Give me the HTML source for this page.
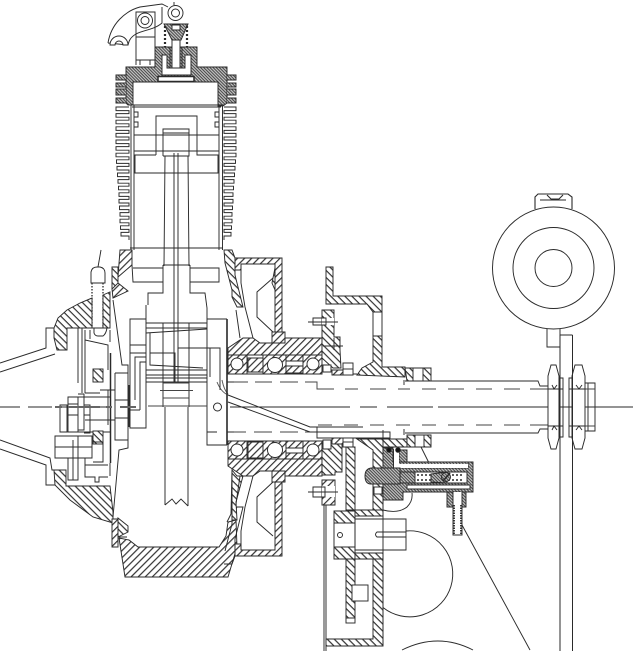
<!DOCTYPE html>
<html><head><meta charset="utf-8"><style>html,body{margin:0;padding:0;background:#fff}svg{display:block}</style></head>
<body>
<svg width="633" height="651" viewBox="0 0 633 651" xmlns="http://www.w3.org/2000/svg">
<defs>
<pattern id="s" width="5" height="5" patternUnits="userSpaceOnUse" patternTransform="rotate(-45)"><rect width="5" height="5" fill="#fff"/><rect width="5" height="1.2" fill="#333"/></pattern>
<pattern id="b" width="5" height="5" patternUnits="userSpaceOnUse" patternTransform="rotate(45)"><rect width="5" height="5" fill="#fff"/><rect width="5" height="1.2" fill="#333"/></pattern>
<pattern id="f" width="2.2" height="2.2" patternUnits="userSpaceOnUse" patternTransform="rotate(45)"><rect width="2.2" height="2.2" fill="#c4c4c4"/><rect width="2.2" height="1" fill="#444"/></pattern>
</defs>
<g fill="none" stroke="#2a2a2a" stroke-width="0.95">

<!-- right circle and plate -->
<circle cx="553.5" cy="268" r="61"/><circle cx="553.5" cy="268" r="40.5"/><circle cx="553.5" cy="268" r="18.5"/>
<path d="M535 209V197L538 194H568L572 197V209M540 200H566M547 195L551 199H559L563 195" stroke-width="1.1"/>
<path d="M547 329V347H560M560 329V651M572.5 335V651M560 335H572.5"/>

<!-- shaft -->
<path d="M228 374H320M333 374H357M405 381H538L540 386H548M320 441H228M405 433H538L540 429H548M572 383H595V431H572M588 383V431"/>
<path d="M228 382H248M255 382H272M280 382H298M305 382H317V389H334M345 389H358M370 389H386M398 389H410M422 389H436M448 389H464M476 389H492M504 389H520M530 389H548M572 389H595" stroke="#444"/>
<path d="M228 432H246M254 432H272M280 432H298M305 432H312M318 425H332M344 425H358M370 425H384M396 425H410M422 425H436M448 425H464M476 425H492M504 425H520M530 425H548M572 426H595" stroke="#444"/>
<path d="M0 407H20M28 407H52M60 407H110"/>
<path d="M230 407H350M360 407H377M387 407H433M438 407H633"/>
<path d="M228 395L310 427H363M228 402L310 432H390V438H317V427"/>
<path d="M217 382Q221 392 228 395M222 380Q224 390 228 394" stroke="#555"/>
<path d="M227 319V445" stroke-width="1.6"/>
<!-- nuts -->
<path d="M551 365H556L559 376V438L556 449H551L548 438V376ZM575 365H582L585 376V438L582 449H575L572 438V376Z" fill="#fff"/>
<path d="M559 378H563V437H559ZM569 378H572.5V437H569ZM548 389H563M569 389H585M548 426H563M569 426H585"/>
<path d="M552 385L554 389L557 385M552 430L554 426L557 430M576 385L579 389L582 385M576 430L579 426L582 430"/>
<path d="M560 335V651M572.5 335V651"/>

<!-- cylinder fins -->
<path d="M129 107H116V110.600H129V113.600H116V117.200H129V120.200H116V123.800H129V126.800H116V130.400H129V133.400H116V137H129V140H116V143.600H129V146.600H116V150.200H129V153.200H116V156.800H129V159.800H116.500V163.400H129V166.400H117V170H129V173H117.500V176.600H129V179.600H118V183.200H129V186.200H118.500V189.800H129V192.800H119V196.400H129V199.400H119V203H129V206H119.500V209.600H129V212.600H120V216.200H129V219.200H120V222.800H129V225.800H120.500V229.400H129V232.400H121V236H129V240"/>
<path d="M224 107H236V110.600H224V113.600H236V117.200H224V120.200H236V123.800H224V126.800H236V130.400H224V133.400H236V137H224V140H236V143.600H224V146.600H236V150.200H224V153.200H236V156.800H224V159.800H235.500V163.400H224V166.400H235V170H224V173H234.500V176.600H224V179.600H234V183.200H224V186.200H233.500V189.800H224V192.800H233V196.400H224V199.400H233V203H224V206H232.500V209.600H224V212.600H232V216.200H224V219.200H232V222.800H224V225.800H231.500V229.400H224V232.400H231V236H224V240"/>

<!-- cylinder head -->
<path d="M126 67H155V47H197V67H227V103L223 106H218V82H133V105H128L126 103Z" fill="url(#f)"/>
<path d="M126 75H116V80H126V83H116V87H126V89H116V95H126V98H116V103H126M227 75H236V80H227V83H236V87H227V89H236V95H227V98H236V103H227" fill="url(#f)"/>
<path d="M162 55H167V68H185V55H191V75H162Z" fill="#fff"/>
<path d="M170 47H182V68H170Z" fill="url(#f)"/>
<path d="M172 40H180V68H172Z" fill="#fff"/>
<path d="M158 76.500H194V81.500H158Z" fill="#fff" stroke-width="1.5"/>
<!-- rocker -->
<path d="M108 43C111 24 125 11 140 7L162 4L168 7M162 7V23C154 30 143 30 136 34C131 37 129 40 128 45L108 43"/>
<path d="M110 45A9 9 0 0 1 128 45H123A4 4 0 0 0 115 45Z" fill="#fff"/>
<path d="M136 12H155V37H136ZM136 37V65M155 37V47M136 60H155M140 60V65M150 60V65"/>
<circle cx="145" cy="20.500" r="7.500"/><circle cx="145" cy="20.500" r="4"/>
<circle cx="175.500" cy="13" r="7.500" fill="#fff"/><circle cx="175.500" cy="13" r="4"/>
<path d="M174 2V5"/>
<path d="M164 24H188L181 40H172Z" fill="url(#f)"/>
<path d="M172 25H180V30H172Z" fill="#fff"/>
<path d="M165 26V47M187 26V47" stroke-width="2.200" stroke-dasharray="2 2"/>

<!-- cylinder bore -->
<path d="M131 105V250M134 105V250M219 105V250M222.500 105V250"/>
<path d="M128 105H224M132 107H221"/>
<path d="M134 112H138V117H134M134 122H138V127H134M219 112H215V117H219M219 122H215V127H219"/>
<path d="M134 135H219M134 151H219"/>
<path d="M156 155V116H197V155H218V173H135V155H156"/>
<path d="M163 156V129H189V156H163M163 133H189"/>
<path d="M165 156L164 266M188 156L189 266M174 153V383M178 153V383"/>
<path d="M130 248H223"/>

<!-- crankcase -->
<path d="M120 250H132V265L118 277Z" fill="url(#s)"/>
<path d="M112 267H118V289H112Z" fill="url(#b)"/>
<path d="M118 283L128 291L113 298L112 289Z" fill="url(#s)"/>
<path d="M132 265L133 282H163M133 268H163M190 268H219V282H190M163 265H190"/>
<path d="M163 265V293H148V305M146 305V428H130V319H146M190 265V293H205L207 308V445H227"/>
<path d="M207 319H227"/>
<path d="M146 323H207M146 328H207M146 333L207 329M146 370H207M146 375H207M146 378H207M146 382H207" />
<path d="M150 333V365L203 368M150 353H175V382M178 382V348H220V390M210 348V377"/>
<path d="M163 323V407M189 323V407M165 407V505M188 407V506M165 505L172 499L176 504L181 499L188 506"/>
<path d="M160 390.500H193M163 383H189M163 398H189M163 406H207M148 406H163" stroke="#444"/>
<path d="M207 432H217M227 432H234M227 382H234"/>
<circle cx="217.500" cy="407" r="4"/>
<!-- wall & rotor -->
<path d="M113 300L122 365H128V448L119 450L113 517"/>
<path d="M130 345H146M130 353H146M135 400V357H146M140 410V362H146M130 410H140M129 385V427" />
<path d="M129 385V427" stroke-width="1.600"/>
<path d="M115 373H128M115 373V440H128M115 400H128M115 418H128"/>
<path d="M110.500 353V463" stroke-width="1.500"/>
<path d="M78 328V383M82 328V393M85 330V340L108 345V370M85 340V393M90 330V339M70 397H110M85 393H100M100 390H115M108 390V425M78 432H110M85 420H115"/>
<rect x="93" y="369" width="10" height="13" fill="url(#b)"/>
<rect x="93" y="431" width="10" height="13" fill="url(#b)"/>
<path d="M60 405H67V432H60ZM68 397H78V432H68ZM68 404H78M68 415H78M78 394H84V430H78M84 405H90V433H84M84 415H90"/>
<path d="M55 436H92V458H55ZM55 447H92M68 458V480H78V436M73 440V480M85 458V477H95V482H99V477H108M93 442H103V462H93M85 465H108"/>
<path d="M55 407H62M68 407H100M106 407H112M120 407H136" stroke="#666" stroke-width="2"/>
<path d="M110 330V342M110 463V476"/>
<!-- plug -->
<path d="M101 250L98 267"/>
<path d="M91 283V272Q92 267 97 267H100Q105 268 105 273V283Z" fill="#fff"/>
<path d="M92 283V328M103 283V328" stroke-dasharray="1.500 1.500" stroke-width="1.300"/>
<path d="M94 328V333Q95 336 98 336H103Q106 334 107 328"/>
<!-- flywheel cover -->
<path d="M54 328L58 318L67 310L80 303L92 298V328H67V350H57L54 338Z" fill="url(#b)"/>
<path d="M103 295L110 292V328H103Z" fill="url(#b)"/>
<path d="M54 470H66V486H110L113 512V523L93 517L70 500L55 485Z" fill="url(#b)"/>
<path d="M0 363L46 348V328H54M0 372L55 354M0 440L50 458L52 470H54M0 449L46 465V485H55"/>
<path d="M67 328H107"/>
<!-- crank bottom -->
<path d="M119 538L125 577H228L237 547L236 520L228 522L226 536L219 547H138L129 540Z" fill="url(#s)"/>
<path d="M112 519H118V547H112Z" fill="url(#s)"/>
<path d="M118 518L128 526V532L118 537Z" fill="url(#b)"/>
<path d="M119 537H127M227 522L231 514L232 470"/>

<!-- flanges (upper) -->
<path d="M224 250H232L235 258V275L243 307H237L232 297V290L225 263Z" fill="url(#b)"/>
<path d="M235 258H282V332H275V264H241V270H235Z" fill="url(#s)"/>
<path d="M241 264V283L245 307L253 338M236 310L240 338M273 278L257 292V317L273 332"/>
<path d="M273 278L275 268V290L272 283Z" fill="url(#b)"/>
<path d="M272 332H285V343H272Z" fill="url(#s)"/>
<path d="M228 355V348L243 338H253L260 343H285V338H322V355Z" fill="url(#s)"/>
<path d="M228 355H247V374H228Z" fill="url(#s)"/><circle cx="237" cy="364" r="6" fill="#fff"/>
<path d="M248 358H263V372H248Z" fill="url(#s)"/>
<path d="M263 355H286V374H263Z" fill="url(#s)"/><circle cx="275" cy="365" r="7.500" fill="#fff"/>
<path d="M286 355H303V361H286ZM286 366H303V373H286Z" fill="url(#s)"/>
<path d="M303 355H322V374H303Z" fill="url(#s)"/><circle cx="313" cy="364" r="6" fill="#fff"/>
<!-- boss upper -->
<path d="M322 310H334V337H340V350L341 368H333L322 358V338L322 310Z" fill="url(#b)"/>
<path d="M322 318H334V325H322Z" fill="#fff" stroke="none"/>
<path d="M313 318H326V325H313ZM308 322H338M323 346H343M334 338V350"/>
<path d="M323 365H331V372H323Z" fill="#fff"/>
<path d="M332 370H353V375H332Z" fill="url(#s)"/>
<rect x="343" y="363" width="10" height="12" fill="#fff"/><path d="M343 369H353"/>
<!-- L bracket -->
<path d="M326 267H333V296H382V312H373L367 304H326Z" fill="url(#b)"/>
<path d="M373 312V336M382 312V336"/>
<path d="M373 336H382V367H405V377L357 375L362 368L373 362Z" fill="url(#b)"/>
<path d="M405 368H413V381H407Z" fill="url(#b)"/><path d="M423 368H431V381H423Z" fill="url(#b)"/>
<path d="M413 368H423M413 381H423M404 380V385"/>

<!-- flanges (lower) -->
<path d="M224 564H232L235 556V539L243 507H237L232 517V524L225 551" fill="none"/>
<path d="M232 470L237 476H243L236 502L237 520H232Z" fill="url(#b)"/>
<path d="M235 556H282V482H275V550H241V544H235Z" fill="url(#s)"/>
<path d="M241 550V531L245 507L253 476M236 504L240 476M273 536L257 522V497L273 482"/>
<path d="M272 482H285V471H272Z" fill="url(#s)"/>
<path d="M228 459V466L243 476H253L260 471H285V476H322V459Z" fill="url(#s)"/>
<path d="M228 441H247V459H228Z" fill="url(#s)"/><circle cx="237" cy="450" r="6" fill="#fff"/>
<path d="M248 442H263V458H248Z" fill="url(#s)"/>
<path d="M263 441H286V459H263Z" fill="url(#s)"/><circle cx="275" cy="450" r="7.500" fill="#fff"/>
<path d="M286 441H303V448H286ZM286 453H303V459H286Z" fill="url(#s)"/>
<path d="M303 441H322V459H303Z" fill="url(#s)"/><circle cx="313" cy="450" r="6" fill="#fff"/>
<!-- boss lower -->
<path d="M322 441H342V472H335V475H322Z" fill="url(#b)"/>
<path d="M323 440H331V449H323Z" fill="#fff"/>
<path d="M332 438H353V444H332Z" fill="url(#s)"/>
<rect x="343" y="438" width="10" height="9" fill="#fff"/><path d="M343 442H353"/>
<path d="M322 480H335V505H322Z" fill="url(#s)"/>
<path d="M322 486H335V497H322Z" fill="#fff" stroke="none"/>
<path d="M313 487H325V497H313ZM308 492H338"/>
<path d="M324 505V651M326 505V651"/>

<!-- plate assembly -->
<path d="M346 447H355V510H346Z" fill="url(#b)"/>
<path d="M357 439H407V447H383V510H373V450Z" fill="url(#b)"/>
<path d="M407 435H415V447H407ZM424 435H431V447H424Z" fill="url(#b)"/>
<path d="M415 435H424M415 447H424M421 447L429 463M404 429V435"/>
<rect x="374" y="487" width="8" height="7" fill="#fff"/>
<path d="M334 511H355V523H334ZM334 547H355V559H334Z" fill="url(#b)"/>
<path d="M334 523V547M355 523V547"/>
<circle cx="340" cy="535" r="2.500"/>
<path d="M355 510H383V516H355ZM355 553H383V559H355Z" fill="url(#b)"/>
<path d="M355 519H406V550H355Z"/>
<path d="M406 532H377Q374 534.500 377 537H406"/>
<path d="M346 559H355V618H346Z" fill="url(#b)"/>
<rect x="346" y="618" width="9" height="5"/>
<path d="M373 559H383V646H326V639H373Z" fill="url(#b)"/>
<rect x="352" y="585" width="16" height="16" fill="#fff"/>
<path d="M383 430V646"/>
<path d="M406 531A43 43 0 1 1 383 607.500"/>
<path d="M402 650Q438 632 473 650"/>
<path d="M383 510Q398 514 407 507Q413 501 412 493"/>

<!-- carburettor -->
<path d="M383 448H393V462H473V492H403V500H383Z" fill="url(#f)"/>
<path d="M399 448V462H393" fill="none"/>
<path d="M399 450H407V462H399Z" fill="url(#f)"/>
<path d="M393.500 449V468H468V463" fill="none"/>
<path d="M394 449H399V464H468V468H394Z" fill="#fff" stroke="none"/>
<path d="M400 472H464V483H400Z" fill="url(#f)"/>
<path d="M415 472H467V483H415Z" fill="#fff"/>
<path d="M417 475H431M417 480H431M448 475H464M448 480H464" stroke-width="1.600" stroke-dasharray="2 2"/>
<path d="M431 474L447 472V483L431 482Z" fill="url(#f)"/>
<circle cx="446" cy="477" r="4.500" fill="url(#f)"/>
<path d="M443 481L450 473" stroke-width="1.600"/>
<path d="M365 476Q365 469 371 468H400V484H371Q365 484 365 476Z" fill="url(#f)"/>
<path d="M407 485H470V489H407Z" fill="#fff"/>
<circle cx="389" cy="450" r="2.300" fill="#111"/><circle cx="398" cy="450" r="2.300" fill="#111"/>
<path d="M447 492H453V507H447ZM460 492H466V507H460Z" fill="url(#f)"/>
<path d="M453 492V535H462V492" fill="#fff"/>
<path d="M454 505V534M461 505V534" stroke-width="1.800" stroke-dasharray="1.500 1"/>
<path d="M462 525L530 650"/>
</g>
</svg>
</body></html>
